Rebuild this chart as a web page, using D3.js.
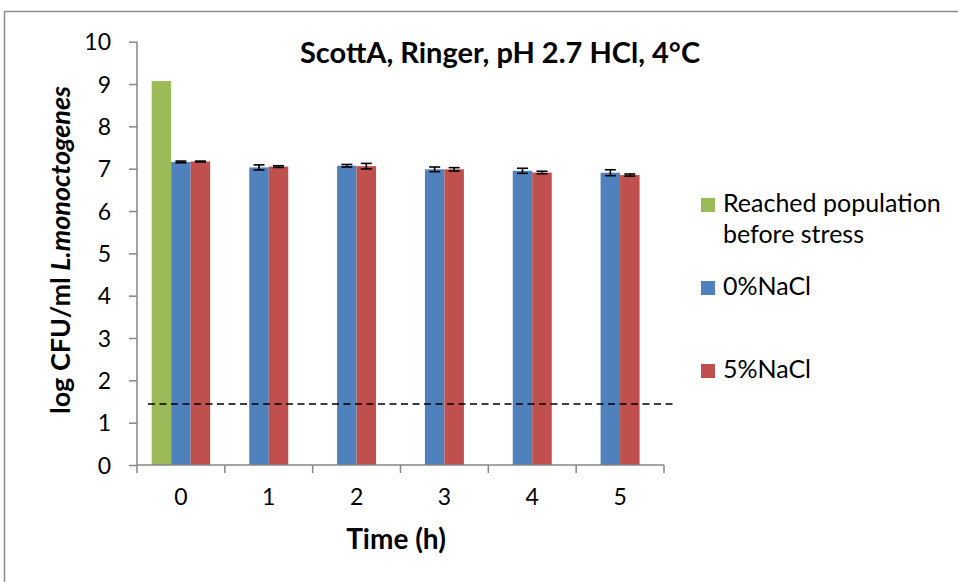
<!DOCTYPE html>
<html>
<head>
<meta charset="utf-8">
<script src="https://cdn.jsdelivr.net/npm/d3@7"></script>
<style>
  html, body { margin: 0; padding: 0; background: #fff; }
  svg { display: block; font-family: Lato, "Open Sans", sans-serif; }
</style>
</head>
<body>
<svg id="chart" width="958" height="582"></svg>
<script>
// ---- data ----
const categories = ["0", "1", "2", "3", "4", "5"];
const reached    = [9.07, null, null, null, null, null];
const nacl0      = [7.16, 7.03, 7.07, 6.985, 6.95, 6.905];
const nacl0Err   = [0.02, 0.06, 0.03, 0.055, 0.06, 0.07];
const nacl5      = [7.17, 7.05, 7.06, 6.985, 6.91, 6.85];
const nacl5Err   = [0.01, 0.02, 0.065, 0.04, 0.03, 0.025];
const yTicks     = [0, 1, 2, 3, 4, 5, 6, 7, 8, 9, 10];
const detectionLimit = 1.44;
const seriesNames  = ["Reached population before stress", "0%NaCl", "5%NaCl"];
const seriesColors = ["#9BBB59", "#4F81BD", "#C0504D"];

const svg = d3.select("#chart");
const axisColor = "#868686";

// frame
svg.append("rect").attr("x", 4.5).attr("y", 11.5).attr("width", 1000).attr("height", 600)
  .attr("fill", "none").attr("stroke", "#8c8c8c").attr("stroke-width", 1.5);

const x = d3.scaleBand().domain(categories).range([137, 664]).padding(0);
const y = d3.scaleLinear().domain([0, 10]).range([465, 41.7]);
const barW = 19.5;

// build bar records
const series = [reached, nacl0, nacl5];
const errs = [null, nacl0Err, nacl5Err];
const bars = [];
categories.forEach((c, i) => {
  const present = series.map((s, k) => k).filter(k => series[k][i] != null);
  const n = present.length;
  const cx = x(c) + x.bandwidth() / 2;
  present.forEach((k, j) => {
    bars.push({
      cat: c, k, v: series[k][i], e: errs[k] ? errs[k][i] : null,
      x0: cx - n * barW / 2 + j * barW
    });
  });
});

svg.append("g").selectAll("rect").data(bars).join("rect")
  .attr("x", d => d.x0).attr("width", barW)
  .attr("y", d => y(d.v)).attr("height", d => y(0) - y(d.v))
  .attr("fill", d => seriesColors[d.k]);

// error bars
const eg = svg.append("g").attr("stroke", "#000").attr("stroke-width", 1.6);
bars.filter(d => d.e != null).forEach(d => {
  const cx = d.x0 + barW / 2;
  eg.append("line").attr("x1", cx).attr("x2", cx).attr("y1", y(d.v + d.e)).attr("y2", y(d.v - d.e));
  [d.v + d.e, d.v - d.e].forEach(v => {
    eg.append("line").attr("x1", cx - 5.5).attr("x2", cx + 5.5).attr("y1", y(v)).attr("y2", y(v));
  });
});

// dashed detection limit
svg.append("line")
  .attr("x1", x.range()[0] + 11).attr("x2", x.range()[1] + 11)
  .attr("y1", y(detectionLimit)).attr("y2", y(detectionLimit))
  .attr("stroke", "#000").attr("stroke-width", 1.5).attr("stroke-dasharray", "7,4.5");

// y axis
const yAxis = svg.append("g").attr("transform", "translate(137,0)")
  .call(d3.axisLeft(y).tickValues(yTicks).tickSize(8).tickPadding(18).tickFormat(d3.format("d")));
yAxis.select(".domain").attr("stroke", axisColor).attr("stroke-width", 1.5).attr("d", `M0,${y(10)}V${y(0)}`);
yAxis.selectAll(".tick line").attr("stroke", axisColor).attr("stroke-width", 1.5);
yAxis.selectAll(".tick text").attr("font-size", 23).attr("fill", "#000").attr("font-family", "Lato").attr("dy", "0.36em");

// x axis
const xAxis = svg.append("g").attr("transform", `translate(0,${y(0)})`)
  .call(d3.axisBottom(x).tickSize(0).tickPadding(24));
xAxis.select(".domain").attr("stroke", axisColor).attr("stroke-width", 1.5).attr("d", `M${x.range()[0]},0H${x.range()[1]}`);
xAxis.selectAll(".tick text").attr("font-size", 23).attr("fill", "#000").attr("font-family", "Lato");
const bounds = categories.map(c => x(c)).concat([x.range()[1]]);
xAxis.selectAll("line.bound").data(bounds).join("line").attr("class", "bound")
  .attr("x1", d => d).attr("x2", d => d).attr("y1", 0).attr("y2", 8)
  .attr("stroke", axisColor).attr("stroke-width", 1.5);

// title
svg.append("text").attr("x", 500).attr("y", 63).attr("text-anchor", "middle")
  .attr("font-size", 29).attr("font-weight", "bold").text("ScottA, Ringer, pH 2.7 HCl, 4°C");

// x title
svg.append("text").attr("x", 396).attr("y", 549).attr("text-anchor", "middle")
  .attr("font-size", 28).attr("font-weight", "bold").text("Time (h)");

// y title
const yt = svg.append("text").attr("transform", "translate(70,250) rotate(-90)")
  .attr("text-anchor", "middle").attr("font-size", 27).attr("font-weight", "bold");
yt.append("tspan").text("log CFU/ml ");
yt.append("tspan").attr("font-style", "italic").text("L.monoctogenes");

// legend
const legend = svg.append("g");
const legendRows = [
  { k: 0, lines: ["Reached population", "before stress"], base: 212 },
  { k: 1, lines: ["0%NaCl"], base: 295 },
  { k: 2, lines: ["5%NaCl"], base: 378 }
];
legendRows.forEach(r => {
  legend.append("rect").attr("x", 701).attr("y", r.base - 14).attr("width", 14).attr("height", 14)
    .attr("fill", seriesColors[r.k]);
  const t = legend.append("text").attr("x", 723).attr("y", r.base).attr("font-size", 25);
  r.lines.forEach((l, i) => t.append("tspan").attr("x", 723).attr("dy", i ? 31 : 0).text(l));
});
</script>
</body>
</html>
